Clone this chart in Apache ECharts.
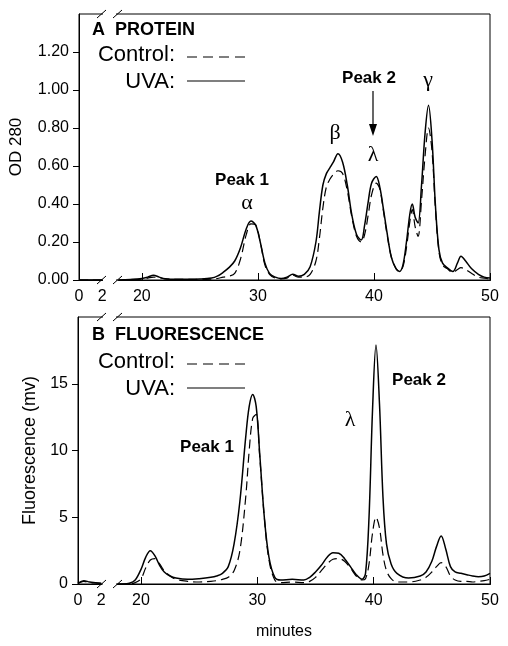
<!DOCTYPE html>
<html>
<head>
<meta charset="utf-8">
<script src="https://cdn.jsdelivr.net/npm/echarts@6/dist/echarts.min.js"></script>
<style>html,body{margin:0;padding:0;background:#fff}#c{width:508px;height:646px}</style>
</head>
<body>
<div id="c"></div>
<script>
// ---- Panel A: protein (OD 280) ----
const proteinTime = [0,1,2,10,18,19,20,20.5,21,21.5,22,23,24,25,26,26.5,27,27.5,28,28.5,29,29.4,29.8,30.2,30.6,31,31.5,32,32.5,33,33.5,34,34.5,35,35.3,35.6,35.9,36.2,36.5,36.9,37.3,37.7,38.1,38.5,38.9,39.2,39.5,39.8,40.2,40.5,40.8,41.1,41.5,41.9,42.2,42.5,42.8,43.1,43.3,43.55,43.8,44.1,44.4,44.7,45.0,45.3,45.6,45.9,46.3,46.8,47.2,47.5,47.9,48.4,49,49.5,50];
const proteinUVA = [0,0,0,null,0,0.003,0.008,0.015,0.025,0.015,0.007,0.004,0.004,0.005,0.01,0.02,0.04,0.065,0.1,0.17,0.27,0.31,0.29,0.2,0.09,0.035,0.015,0.008,0.015,0.03,0.02,0.03,0.07,0.2,0.36,0.5,0.56,0.59,0.62,0.665,0.62,0.5,0.34,0.24,0.21,0.29,0.41,0.51,0.545,0.49,0.38,0.26,0.12,0.06,0.045,0.08,0.2,0.35,0.40,0.33,0.30,0.5,0.77,0.92,0.74,0.39,0.16,0.09,0.065,0.045,0.09,0.125,0.1,0.06,0.03,0.015,0.01];
const proteinControl = [0,0,0,null,0,0.002,0.005,0.01,0.015,0.012,0.006,0.003,0.003,0.003,0.005,0.008,0.015,0.02,0.035,0.11,0.24,0.295,0.29,0.2,0.08,0.03,0.01,0.006,0.01,0.025,0.015,0.015,0.03,0.1,0.22,0.38,0.49,0.53,0.555,0.575,0.56,0.47,0.33,0.23,0.2,0.24,0.34,0.45,0.51,0.48,0.37,0.25,0.12,0.06,0.045,0.07,0.17,0.31,0.37,0.28,0.23,0.42,0.65,0.80,0.68,0.37,0.15,0.08,0.06,0.04,0.055,0.065,0.055,0.035,0.015,0.01,0.005];

// ---- Panel B: fluorescence (mv) ----
const fluorTime = [0,0.5,1,1.5,2,10,18,18.5,19,19.5,20,20.4,20.8,21.2,21.6,22,22.5,23,24,25,26,26.5,27,27.5,28,28.5,29,29.3,29.6,29.9,30.2,30.6,31,31.5,32,33,34,34.5,35,35.5,36,36.5,37,37.5,38,38.5,39,39.3,39.6,39.9,40.2,40.5,40.8,41.1,41.5,42,43,44,44.5,45,45.4,45.8,46.2,46.6,47,47.5,48,48.5,49,49.5,50];
const fluorUVA = [0.05,0.25,0.15,0.1,0.05,null,0,0,0.05,0.3,1.1,2.0,2.5,2.1,1.4,0.9,0.6,0.45,0.35,0.4,0.5,0.6,0.8,1.3,3.0,6.2,11.0,13.3,14.2,13.3,9.8,5.0,2.0,0.5,0.3,0.35,0.3,0.5,0.9,1.4,2.0,2.35,2.3,1.9,1.3,0.7,0.35,0.8,5.0,13.0,17.9,13.5,6.5,3.0,1.5,0.8,0.45,0.6,0.9,1.7,2.8,3.6,2.6,1.3,0.9,0.8,0.7,0.6,0.55,0.6,0.8];
const fluorControl = [0.05,0.2,0.1,0.08,0.05,null,0,0,0,0.1,0.4,1.2,1.8,1.9,1.5,1.0,0.6,0.35,0.2,0.15,0.2,0.25,0.35,0.5,1.0,2.5,6.5,10.0,12.4,12.7,9.6,5.0,1.8,0.3,0.1,0.15,0.1,0.2,0.5,1.0,1.5,1.85,1.9,1.7,1.2,0.6,0.3,0.4,1.5,3.8,5.0,4.2,2.2,1.0,0.4,0.15,0.15,0.3,0.5,0.9,1.3,1.6,1.3,0.6,0.3,0.2,0.2,0.15,0.2,0.25,0.35];

const xLabelValues = [0,2,20,30,40,50];
const xTickValues = [20,30,40,50];
const seriesNames = ['Control', 'UVA'];

const FONT = 'Liberation Sans, Arial, Helvetica, sans-serif';
const SERIF = 'Liberation Serif, DejaVu Serif, serif';
const pair = (xs, ys) => xs.map((x, i) => [x, ys[i]]);

function xAxisFor(gi) {
  return {
    gridIndex: gi, type: 'value', min: 0, max: 50,
    breaks: [{ start: 2, end: 18, gap: '4%' }],
    breakArea: { show: false },
    axisLine: { lineStyle: { color: '#000', width: 1 } },
    axisTick: { inside: true, length: 7, customValues: xTickValues, lineStyle: { color: '#000' } },
    axisLabel: { customValues: xLabelValues, color: '#000', fontSize: 16, fontFamily: FONT, margin: 9 },
    splitLine: { show: false }
  };
}
function yAxisFor(gi, max, interval, name, gap, nameSize, fmt) {
  return {
    gridIndex: gi, type: 'value', min: 0, max: max, interval: interval,
    name: name, nameLocation: 'middle', nameGap: gap,
    nameTextStyle: { color: '#000', fontSize: nameSize, fontFamily: FONT },
    axisLine: { show: true, lineStyle: { color: '#000', width: 1 } },
    axisTick: { show: true, length: 6, lineStyle: { color: '#000' } },
    axisLabel: { color: '#000', fontSize: 16, fontFamily: FONT, margin: 10, showMaxLabel: false, formatter: fmt },
    splitLine: { show: false }
  };
}
function lineSeries(name, xi, data, dashed) {
  return {
    name: name, type: 'line', xAxisIndex: xi, yAxisIndex: xi,
    data: data, showSymbol: false, symbol: 'none', smooth: 0.35,
    connectNulls: false, animation: false,
    lineStyle: { color: '#000', width: dashed ? 1.2 : 1.5, type: dashed ? [9, 5] : 'solid' },
    z: dashed ? 3 : 4
  };
}

const chart = echarts.init(document.getElementById('c'), null, { renderer: 'canvas' });

const txt = (x, y, text, font, align) => ({
  type: 'text', x: x, y: y, z: 100,
  style: { text: text, fill: '#000', font: font, align: align || 'center', verticalAlign: 'middle' }
});
const seg = (x1, y1, x2, y2, w, dash, color) => ({
  type: 'line', z: 100, shape: { x1: x1, y1: y1, x2: x2, y2: y2 },
  style: { stroke: color || '#000', lineWidth: w || 1, lineDash: dash || null }
});
// axis-break marks: white gap in the frame line, then two slashes
const breakMarks = (y) => [
  Object.assign(seg(103, y, 116, y, 3, null, '#fff'), { z: 99 }),
  seg(97, y + 4, 106, y - 4), seg(113, y + 4, 122, y - 4)
];

const graphics = [
  // Panel A header and legend
  txt(92, 30, 'A  PROTEIN', 'bold 18px ' + FONT, 'left'),
  txt(175, 55, seriesNames[0] + ':', '22px ' + FONT, 'right'),
  txt(175, 82, seriesNames[1] + ':', '22px ' + FONT, 'right'),
  seg(187, 57, 245, 57, 1.2, [10, 6]),
  seg(187, 81, 245, 81, 1.2),
  // Panel A annotations
  txt(242, 180, 'Peak 1', 'bold 17px ' + FONT),
  txt(247, 203, 'α', '22px ' + SERIF),
  txt(335, 133, 'β', '22px ' + SERIF),
  txt(373, 155, 'λ', '22px ' + SERIF),
  txt(428, 80, 'γ', '22px ' + SERIF),
  txt(369, 78, 'Peak 2', 'bold 17px ' + FONT),
  seg(373, 91, 373, 130, 1.2),
  { type: 'polygon', z: 100, shape: { points: [[369, 124], [377, 124], [373, 136]] }, style: { fill: '#000' } },
  // Panel B header and legend
  txt(92, 335, 'B  FLUORESCENCE', 'bold 18px ' + FONT, 'left'),
  txt(175, 362, seriesNames[0] + ':', '22px ' + FONT, 'right'),
  txt(175, 389, seriesNames[1] + ':', '22px ' + FONT, 'right'),
  seg(187, 364, 245, 364, 1.2, [10, 6]),
  seg(187, 388, 245, 388, 1.2),
  // Panel B annotations
  txt(207, 447, 'Peak 1', 'bold 17px ' + FONT),
  txt(350, 420, 'λ', '22px ' + SERIF),
  txt(419, 380, 'Peak 2', 'bold 17px ' + FONT),
  // x axis title
  txt(284, 632, 'minutes', '16px ' + FONT)
].concat(breakMarks(14), breakMarks(280), breakMarks(317), breakMarks(584));

chart.setOption({
  animation: false,
  backgroundColor: '#fff',
  grid: [
    { left: 78, top: 14, width: 412, height: 266, show: true, borderColor: '#000', borderWidth: 1, backgroundColor: 'transparent' },
    { left: 78, top: 317, width: 412, height: 267, show: true, borderColor: '#000', borderWidth: 1, backgroundColor: 'transparent' }
  ],
  xAxis: [xAxisFor(0), xAxisFor(1)],
  yAxis: [
    yAxisFor(0, 1.4, 0.2, 'OD 280', 54, 17, v => v.toFixed(2)),
    yAxisFor(1, 20, 5, 'Fluorescence (mv)', 39, 18, v => String(v))
  ],
  series: [
    lineSeries(seriesNames[0], 0, pair(proteinTime, proteinControl), true),
    lineSeries(seriesNames[1], 0, pair(proteinTime, proteinUVA), false),
    lineSeries(seriesNames[0], 1, pair(fluorTime, fluorControl), true),
    lineSeries(seriesNames[1], 1, pair(fluorTime, fluorUVA), false)
  ],
  graphic: graphics
});
</script>
</body>
</html>
